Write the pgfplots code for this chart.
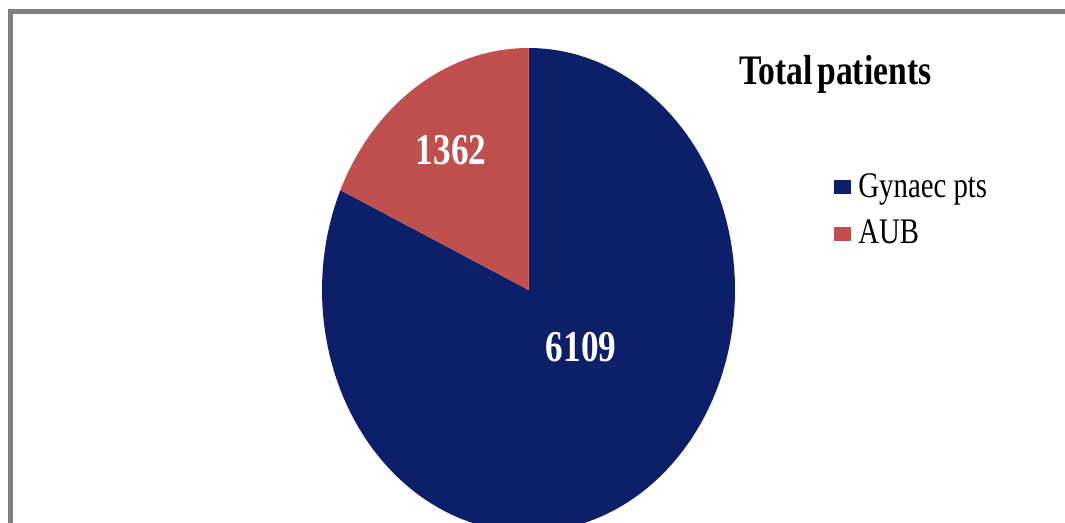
\documentclass[border=0pt]{standalone}
\usepackage{fontspec}
\setmainfont{Liberation Serif}[FakeStretch=0.8]
\usepackage{pgfplots}
\pgfplotsset{compat=1.18}
\definecolor{gynblue}{RGB}{14,31,105}
\definecolor{aubred}{RGB}{192,80,77}
\definecolor{framegray}{RGB}{128,128,128}
% data
\def\gyn{6109}
\def\aub{1362}
\pgfmathsetmacro{\total}{\gyn+\aub}
\pgfmathsetmacro{\fracgyn}{\gyn/\total}
\pgfmathsetmacro{\splitang}{450-360*\fracgyn}% boundary angle (deg)
% pie geometry (pixel units of the picture)
\def\cx{528.5}
\def\cy{233}
\def\ra{206.5}
\def\rb{242}
\begin{document}
\begin{tikzpicture}
\begin{axis}[
  hide axis, scale only axis,
  width=532.5pt, height=261.5pt,
  xmin=0, xmax=1065, ymin=0, ymax=523,
  legend style={at={(axis cs:828,358)}, anchor=north west, draw=none, fill=none,
    font=\fontsize{18}{20}\selectfont, row sep=6pt,
    /tikz/every odd column/.append style={column sep=1.5pt}},
  legend cell align=left,
  legend image code/.code={\fill[#1] (0pt,-3.5pt) rectangle (8.5pt,3.5pt);},
]
\addplot[fill=gynblue, draw=none, domain=\splitang:450, samples=200, variable=\t]
  ({\cx+\ra*cos(\t)},{\cy+\rb*sin(\t)}) -- (axis cs:\cx,\cy) -- cycle;
\addlegendentry{Gynaec pts}
\addplot[fill=aubred, draw=none, domain=90:\splitang, samples=80, variable=\t]
  ({\cx+\ra*cos(\t)},{\cy+\rb*sin(\t)}) -- (axis cs:\cx,\cy) -- cycle;
\addlegendentry{AUB}
\node[text=white, font=\bfseries\fontsize{22}{24}\selectfont] at (axis cs:451,373) {1362};
\node[text=white, font=\bfseries\fontsize{22}{24}\selectfont] at (axis cs:581,176) {6109};
\node[anchor=base, font=\bfseries\fontsize{21}{24}\selectfont] at (axis cs:835.5,438) {Total\kern-2pt{} patients};
\draw[framegray, line width=2.5pt] (axis cs:10.5,-10) |- (axis cs:1080,511.5);
\coordinate (ll) at (axis cs:0,0);
\coordinate (ur) at (axis cs:1065,523);
\end{axis}
\pgfresetboundingbox
\path[use as bounding box] (ll) rectangle (ur);
\end{tikzpicture}
\end{document}
